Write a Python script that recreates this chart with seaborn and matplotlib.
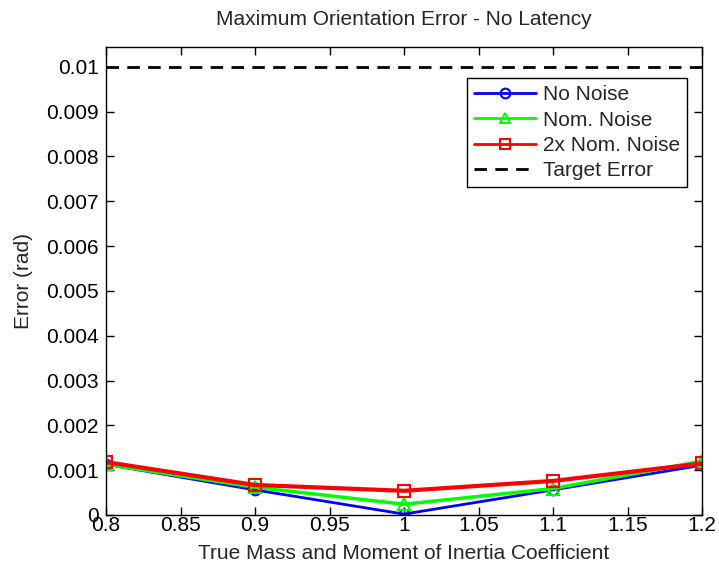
import matplotlib
matplotlib.use("Agg")
import matplotlib.pyplot as plt
import seaborn as sns
import pandas as pd
from matplotlib.lines import Line2D

coeff = [0.8, 0.9, 1.0, 1.1, 1.2]
no_noise = [0.00113, 0.00056, 0.00002, 0.00056, 0.00111]
nom_noise = [0.00113, 0.00062, 0.00024, 0.00059, 0.00120]
nom2_noise = [0.00118, 0.00067, 0.00054, 0.00076, 0.00115]
target_error = 0.01
series_names = ["No Noise", "Nom. Noise", "2x Nom. Noise"]
x_ticks = [0.8, 0.85, 0.9, 0.95, 1.0, 1.05, 1.1, 1.15, 1.2]
x_tick_labels = ["0.8", "0.85", "0.9", "0.95", "1", "1.05", "1.1", "1.15", "1.2"]
y_ticks = [0, 0.001, 0.002, 0.003, 0.004, 0.005, 0.006, 0.007, 0.008, 0.009, 0.01]
y_tick_labels = ["0", "0.001", "0.002", "0.003", "0.004", "0.005", "0.006", "0.007", "0.008", "0.009", "0.01"]

rows = []
for name, vals in zip(series_names, [no_noise, nom_noise, nom2_noise]):
    for c, v in zip(coeff, vals):
        rows.append({"coeff": c, "err": v, "series": name})
df = pd.DataFrame(rows)

sns.set_style("ticks")
plt.rcParams['font.family'] = ['Liberation Sans', 'DejaVu Sans']
plt.rcParams['font.size'] = 15

fig = plt.figure(figsize=(7.19, 5.72), dpi=100)
ax = fig.add_axes([106/719, 1-515/572, (702-106)/719, (515-47)/572])

palette = {"No Noise": "#0000ff", "Nom. Noise": "#00ff00", "2x Nom. Noise": "#ff0000"}
markers = {"No Noise": "o", "Nom. Noise": "^", "2x Nom. Noise": "s"}
sns.lineplot(data=df, x="coeff", y="err", hue="series", style="series",
             hue_order=series_names, style_order=series_names,
             palette=palette, markers=markers, dashes=False, ax=ax,
             linewidth=2.5, markersize=9, markerfacecolor="none",
             markeredgewidth=1.5, legend=False)
for line, name in zip(ax.lines, series_names):
    line.set_markeredgecolor(palette[name])
    line.set_markerfacecolor("none")
ax.lines[0].set_markersize(7)
ax.lines[0].set_linewidth(2)
ax.lines[2].set_linewidth(3)

dash = (0, (4.5, 3))
ax.axhline(target_error, color="black", linestyle=dash, linewidth=2)

handles = [Line2D([], [], color=palette[n], marker=markers[n], markerfacecolor="none",
                  markeredgecolor=palette[n], markersize=7, linewidth=2, markeredgewidth=1.5)
           for n in series_names]
handles.append(Line2D([], [], color="black", linestyle=dash, linewidth=2))
leg = ax.legend(handles, series_names + ["Target Error"], loc="upper right",
                bbox_to_anchor=(1 - (702-687)/596, 1 - (78-47)/468),
                frameon=True, fancybox=False, edgecolor="black", framealpha=1,
                fontsize=15, borderpad=0.35, labelspacing=0.3, handlelength=3.0,
                handletextpad=0.3, borderaxespad=0)
leg.get_frame().set_linewidth(1)

ax.set_xlim(0.8, 1.2)
ax.set_ylim(0, 0.01044)
ax.set_xticks(x_ticks)
ax.set_xticklabels(x_tick_labels)
ax.set_yticks(y_ticks)
ax.set_yticklabels(y_tick_labels)
ax.tick_params(direction="in", top=True, right=True, length=6, width=1, labelsize=15, colors="black")
ax.tick_params(axis="x", pad=1)
ax.tick_params(axis="y", pad=5)
for s in ax.spines.values():
    s.set_visible(True)
    s.set_color("black")
    s.set_linewidth(1)

ax.set_xlabel("True Mass and Moment of Inertia Coefficient", fontsize=15, labelpad=6)
ax.set_ylabel("Error (rad)", fontsize=15, labelpad=10)
ax.set_title("Maximum Orientation Error - No Latency", fontsize=15, pad=16)

fig.savefig("out.png", dpi=100)
